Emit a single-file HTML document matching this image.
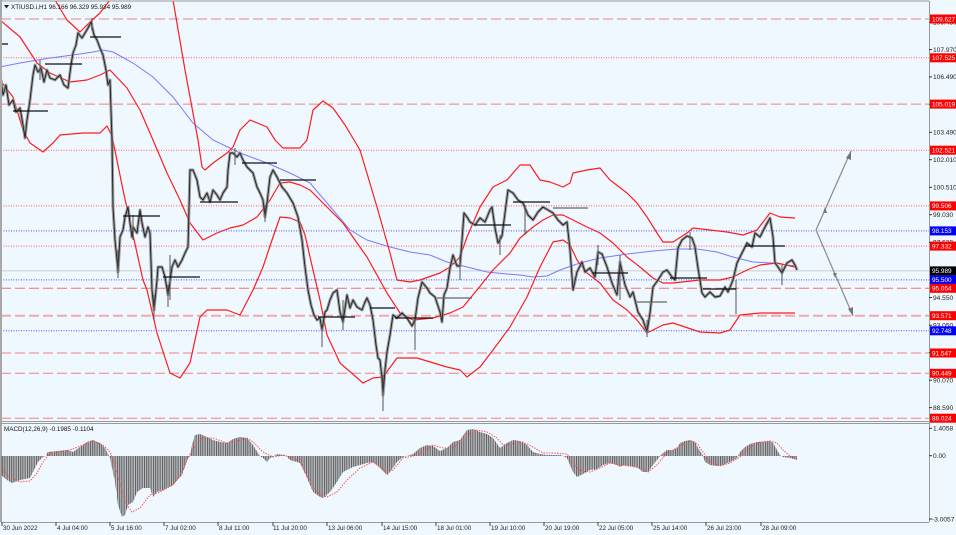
<!DOCTYPE html>
<html><head><meta charset="utf-8"><style>
html,body{margin:0;padding:0;background:#f0f8ff;}
svg{display:block;font-family:"Liberation Sans",Arial,sans-serif;}
</style></head><body>
<svg width="956" height="535" viewBox="0 0 956 535" xmlns="http://www.w3.org/2000/svg">
<defs>
<clipPath id="mc"><rect x="1" y="1" width="928" height="420"/></clipPath>
<clipPath id="dc"><rect x="1" y="423" width="928" height="99"/></clipPath>
<pattern id="hp" patternUnits="userSpaceOnUse" width="1.8" height="10"><rect x="0" y="0" width="1.2" height="10" fill="#606060"/></pattern>
</defs>
<rect x="0" y="0" width="956" height="535" fill="#f0f8ff"/>

<!-- main chart -->
<g clip-path="url(#mc)">
<g fill="none">
<line x1="1" y1="19" x2="929" y2="19" stroke="#f08080" stroke-dasharray="10 4"/>
<line x1="1" y1="57.8" x2="929" y2="57.8" stroke="#ff5a5a" stroke-dasharray="1 1.5"/>
<line x1="1" y1="104.1" x2="929" y2="104.1" stroke="#f08080" stroke-dasharray="10 4"/>
<line x1="1" y1="150.2" x2="929" y2="150.2" stroke="#ff5a5a" stroke-dasharray="1 1.5"/>
<line x1="1" y1="205.9" x2="929" y2="205.9" stroke="#ff5a5a" stroke-dasharray="1 1.5"/>
<line x1="1" y1="230.9" x2="929" y2="230.9" stroke="#4b4bff" stroke-dasharray="1 1.5"/>
<line x1="1" y1="246.1" x2="929" y2="246.1" stroke="#ff5a5a" stroke-dasharray="1 1.5"/>
<line x1="1" y1="270.9" x2="929" y2="270.9" stroke="#c8cdd2" stroke-width="1"/>
<line x1="1" y1="279.9" x2="929" y2="279.9" stroke="#4b4bff" stroke-dasharray="1 1.5"/>
<line x1="1" y1="288.3" x2="929" y2="288.3" stroke="#f07070" stroke-dasharray="10 4"/>
<line x1="1" y1="315.7" x2="929" y2="315.7" stroke="#f4a8a8" stroke-width="2" stroke-dasharray="10 4"/>
<line x1="1" y1="330.8" x2="929" y2="330.8" stroke="#4b4bff" stroke-dasharray="1 1.5"/>
<line x1="1" y1="353" x2="929" y2="353" stroke="#f08080" stroke-dasharray="10 4"/>
<line x1="1" y1="373.3" x2="929" y2="373.3" stroke="#f08080" stroke-dasharray="10 4"/>
<line x1="1" y1="418.2" x2="929" y2="418.2" stroke="#f08080" stroke-dasharray="10 4"/>
</g>

<polyline fill="none" stroke="#7a7aff" stroke-width="1" points="0,67 20,63 50,58 73,55 93,52 103,50 113,52 133,63 153,77 173,97 193,123 213,140 240,153 267,163 290,173 310,183 333,210 350,230 367,240 390,247 410,252 430,255 447,262 467,267 487,272 507,274 520,275 533,277 547,276 560,270 580,263 600,258 627,254 653,251 677,249 697,249 717,252 733,257 753,262 773,263 795,266"/>

<g fill="none" stroke="#ff1c1c" stroke-width="1.2" stroke-linejoin="round">
<polyline points="50,-10 55,0 67,20 80,32 90,22 100,13 110,0 115,-40 165,-40 173,0 185,70 198,140 202,167 205,170 213,163 227,153 233,147 240,130 250,120 267,127 275,140 283,148 300,148 307,140 313,110 323,101 333,108 345,125 360,150 377,207 390,253 397,280 410,282 420,280 440,273 450,267 460,257 467,237 480,207 493,187 507,180 520,165 530,165 540,180 550,182 563,187 570,183 573,173 587,170 600,168 610,180 627,193 637,203 647,217 657,233 663,242 673,242 687,233 693,228 710,230 727,232 743,235 757,230 770,213 780,217 795,218"/>
<polyline points="0,20 20,37 37,63 50,73 70,82 87,80 100,75 110,70 127,88 140,110 153,140 167,173 180,200 190,223 203,240 217,233 230,228 243,225 257,217 270,200 280,183 290,182 300,185 310,190 320,200 343,223 367,257 387,293 400,313 413,320 433,318 450,313 463,307 477,290 493,270 510,253 520,238 533,227 543,220 553,215 563,215 573,220 587,227 600,233 613,243 627,257 640,267 653,278 663,283 673,283 700,280 720,280 733,277 747,270 760,265 777,263 795,267"/>
<polyline points="0,80 13,97 23,130 30,143 43,152 53,143 60,135 83,133 100,133 107,126 112,136 123,190 133,235 143,280 147,290 157,333 170,373 180,378 190,363 200,317 207,310 227,310 240,315 253,290 263,267 272,240 280,217 290,218 300,222 305,235 313,270 320,300 327,335 340,363 363,383 373,378 383,377 397,358 417,358 447,367 460,370 467,377 480,367 493,350 510,327 527,297 540,267 553,242 563,240 570,245 577,260 587,273 600,283 613,300 627,310 637,320 647,333 653,330 663,325 673,323 700,332 720,333 730,330 740,315 760,313 795,313"/>
</g>

<polyline fill="none" stroke="#8c8c8c" stroke-width="3" stroke-linejoin="round" stroke-opacity="0.85" points="1,80 3,95 6,85 9,105 13,100 16,112 20,108 23,125 25,138 27,120 30,100 33,75 35,65 38,72 41,68 44,82 47,70 50,78 55,80 60,75 64,85 68,88 71,65 73,53 76,45 78,33 82,38 85,33 88,28 91,22 94,35 97,40 100,48 103,55 106,70 108,85 110,80 112,140 113,207 115,240 117,260 118,272 120,237 123,230 125,217 128,207 130,223 132,237 133,227 137,233 140,210 142,223 145,237 148,227 150,233 152,290 154,310 157,280 158,267 162,267 165,277 168,295 172,267 175,260 178,267 182,260 185,253 188,247 190,170 193,170 197,180 200,197 203,200 207,193 210,202 213,190 217,195 220,200 223,193 227,187 228,170 230,153 233,153 237,157 240,153 243,160 247,167 250,170 253,173 257,187 260,193 263,200 265,217 267,203 270,177 273,170 277,177 282,187 287,193 293,203 298,217 302,240 305,267 308,290 311,305 314,315 317,320 320,318 322,330 325,312 327,310 330,300 333,293 337,290 340,312 343,322 347,295 350,308 353,300 357,307 362,310 365,302 367,298 370,305 373,320 376,345 378,358 380,360 382,378 383,395 385,370 387,352 390,335 393,315 397,318 402,313 407,318 412,326 415,320 418,298 422,282 427,288 430,293 435,297 440,312 442,322 444,295 447,288 450,268 453,255 457,266 460,266 462,240 464,213 467,217 470,222 475,225 480,218 485,222 490,210 492,207 495,228 498,243 502,236 505,213 508,190 513,193 518,200 523,203 528,215 533,220 538,212 543,207 548,210 553,213 558,220 563,225 567,222 570,250 573,290 577,272 582,262 585,272 590,268 595,277 598,252 602,254 607,267 612,283 617,295 620,262 625,285 630,297 633,292 638,312 643,320 647,332 650,313 653,287 658,280 663,272 667,270 672,277 675,280 678,248 682,240 687,236 692,238 695,247 698,268 702,293 705,297 710,292 715,297 720,296 725,287 728,292 733,280 737,263 742,253 747,243 752,247 755,233 760,237 765,227 770,218 773,237 775,263 778,267 782,273 787,263 792,260 795,265 797,270"/>
<polyline fill="none" stroke="#202020" stroke-width="0.9" stroke-linejoin="round" points="1,80 3,95 6,85 9,105 13,100 16,112 20,108 23,125 25,138 27,120 30,100 33,75 35,65 38,72 41,68 44,82 47,70 50,78 55,80 60,75 64,85 68,88 71,65 73,53 76,45 78,33 82,38 85,33 88,28 91,22 94,35 97,40 100,48 103,55 106,70 108,85 110,80 112,140 113,207 115,240 117,260 118,272 120,237 123,230 125,217 128,207 130,223 132,237 133,227 137,233 140,210 142,223 145,237 148,227 150,233 152,290 154,310 157,280 158,267 162,267 165,277 168,295 172,267 175,260 178,267 182,260 185,253 188,247 190,170 193,170 197,180 200,197 203,200 207,193 210,202 213,190 217,195 220,200 223,193 227,187 228,170 230,153 233,153 237,157 240,153 243,160 247,167 250,170 253,173 257,187 260,193 263,200 265,217 267,203 270,177 273,170 277,177 282,187 287,193 293,203 298,217 302,240 305,267 308,290 311,305 314,315 317,320 320,318 322,330 325,312 327,310 330,300 333,293 337,290 340,312 343,322 347,295 350,308 353,300 357,307 362,310 365,302 367,298 370,305 373,320 376,345 378,358 380,360 382,378 383,395 385,370 387,352 390,335 393,315 397,318 402,313 407,318 412,326 415,320 418,298 422,282 427,288 430,293 435,297 440,312 442,322 444,295 447,288 450,268 453,255 457,266 460,266 462,240 464,213 467,217 470,222 475,225 480,218 485,222 490,210 492,207 495,228 498,243 502,236 505,213 508,190 513,193 518,200 523,203 528,215 533,220 538,212 543,207 548,210 553,213 558,220 563,225 567,222 570,250 573,290 577,272 582,262 585,272 590,268 595,277 598,252 602,254 607,267 612,283 617,295 620,262 625,285 630,297 633,292 638,312 643,320 647,332 650,313 653,287 658,280 663,272 667,270 672,277 675,280 678,248 682,240 687,236 692,238 695,247 698,268 702,293 705,297 710,292 715,297 720,296 725,287 728,292 733,280 737,263 742,253 747,243 752,247 755,233 760,237 765,227 770,218 773,237 775,263 778,267 782,273 787,263 792,260 795,265 797,270"/>
<g stroke="#555" stroke-width="1">
<line x1="118" y1="250" x2="118" y2="278"/><line x1="154" y1="295" x2="154" y2="320"/>
<line x1="168" y1="285" x2="168" y2="307"/><line x1="383" y1="375" x2="383" y2="411"/>
<line x1="322" y1="325" x2="322" y2="347"/><line x1="415" y1="320" x2="415" y2="350"/>
<line x1="500" y1="235" x2="500" y2="255"/><line x1="647" y1="320" x2="647" y2="337"/>
<line x1="736" y1="280" x2="736" y2="314"/><line x1="782" y1="265" x2="782" y2="285"/>
<line x1="265" y1="205" x2="265" y2="222"/><line x1="133" y1="215" x2="133" y2="240"/>
<line x1="525" y1="205" x2="525" y2="235"/><line x1="598" y1="245" x2="598" y2="265"/>
<line x1="343" y1="300" x2="343" y2="330"/><line x1="92" y1="18" x2="92" y2="30"/>
<line x1="170" y1="255" x2="170" y2="300"/><line x1="460" y1="255" x2="460" y2="280"/>
<line x1="235" y1="148" x2="235" y2="165"/><line x1="40" y1="60" x2="40" y2="80"/>
<line x1="690" y1="232" x2="690" y2="250"/><line x1="620" y1="255" x2="620" y2="300"/>
</g>

<g stroke="#111" stroke-width="1.3">
<line x1="2" y1="44" x2="8" y2="44"/><line x1="13" y1="111" x2="48" y2="111"/>
<line x1="45" y1="64" x2="82" y2="64"/><line x1="90" y1="37" x2="121" y2="37"/>
<line x1="123" y1="216" x2="160" y2="216"/><line x1="163" y1="277" x2="200" y2="277"/>
<line x1="200" y1="202" x2="238" y2="202"/><line x1="242" y1="163" x2="277" y2="163"/>
<line x1="280" y1="180" x2="316" y2="180"/><line x1="318" y1="317" x2="355" y2="317"/>
<line x1="370" y1="308" x2="395" y2="308"/><line x1="395" y1="318" x2="433" y2="318"/>
<line x1="475" y1="225" x2="511" y2="225"/><line x1="513" y1="202" x2="550" y2="202"/>
<line x1="593" y1="273" x2="628" y2="273"/><line x1="670" y1="278" x2="707" y2="278"/>
<line x1="703" y1="289" x2="736" y2="289"/><line x1="745" y1="246" x2="785" y2="246"/>
</g>
<g stroke="#666" stroke-width="1.3">
<line x1="437" y1="298" x2="472" y2="298"/><line x1="553" y1="208" x2="588" y2="208"/>
<line x1="637" y1="302" x2="667" y2="302"/>
</g>

<g stroke="#8a8a8a" stroke-width="1.2" fill="none">
<polyline points="816,230 851,151"/>
<polyline points="816,230 853,316"/>
</g>
<g fill="#777">
<polygon points="851,151 846,158 851,160"/>
<polygon points="853,316 848,309 853,307"/>
<polygon points="825,207 823,213 827,213"/>
<polygon points="835,278 833,273 837,273"/>
</g>
</g>

<rect x="0" y="0" width="2" height="522" fill="#a8a8a8"/>
<line x1="1" y1="1" x2="929" y2="1" stroke="#9a9a9a"/>
<line x1="929.5" y1="1" x2="929.5" y2="522" stroke="#9a9a9a"/>
<line x1="1" y1="421.5" x2="929" y2="421.5" stroke="#9a9a9a"/>
<line x1="1" y1="423.5" x2="929" y2="423.5" stroke="#9a9a9a"/>
<line x1="1" y1="522.5" x2="929" y2="522.5" stroke="#9a9a9a"/>

<polygon points="4,5 9,5 6.5,8.5" fill="#222"/>
<text x="11" y="9" font-size="6.3" fill="#111">XTIUSD.i,H1  96.166 96.329 95.934 95.989</text>

<g stroke="#333" stroke-width="1">
<line x1="929" y1="22.3" x2="932" y2="22.3"/><line x1="929" y1="49.6" x2="932" y2="49.6"/>
<line x1="929" y1="76.9" x2="932" y2="76.9"/><line x1="929" y1="104.3" x2="932" y2="104.3"/>
<line x1="929" y1="132.3" x2="932" y2="132.3"/><line x1="929" y1="159.7" x2="932" y2="159.7"/>
<line x1="929" y1="187.4" x2="932" y2="187.4"/><line x1="929" y1="214.7" x2="932" y2="214.7"/>
<line x1="929" y1="242.4" x2="932" y2="242.4"/><line x1="929" y1="297.5" x2="932" y2="297.5"/>
<line x1="929" y1="325.2" x2="932" y2="325.2"/><line x1="929" y1="352.5" x2="932" y2="352.5"/>
<line x1="929" y1="380.2" x2="932" y2="380.2"/><line x1="929" y1="407.6" x2="932" y2="407.6"/>
</g>
<g font-size="6.6" fill="#222">
<text x="933" y="24.6">109.450</text>
<text x="933" y="51.9">107.970</text>
<text x="933" y="79.2">106.490</text>
<text x="933" y="106.6">105.010</text>
<text x="933" y="134.6">103.490</text>
<text x="933" y="162">102.010</text>
<text x="933" y="189.7">100.510</text>
<text x="933" y="217">99.030</text>
<text x="933" y="244.7">97.530</text>
<text x="933" y="299.8">94.550</text>
<text x="933" y="327.5">93.050</text>
<text x="933" y="354.8">91.570</text>
<text x="933" y="382.5">90.070</text>
<text x="933" y="409.9">88.590</text>
</g>

<g font-size="6.4" fill="#fff">
<rect x="930" y="14.5" width="26" height="9" fill="#ff0000"/><text x="932" y="21.3">109.627</text>
<rect x="930" y="53.3" width="26" height="9" fill="#ff0000"/><text x="932" y="60.1">107.525</text>
<rect x="930" y="99.6" width="26" height="9" fill="#ff0000"/><text x="932" y="106.4">105.019</text>
<rect x="930" y="145.7" width="26" height="9" fill="#ff0000"/><text x="932" y="152.5">102.521</text>
<rect x="930" y="201.4" width="26" height="9" fill="#ff0000"/><text x="932" y="208.2">99.506</text>
<rect x="930" y="226.4" width="26" height="9" fill="#0000ff"/><text x="932" y="233.2">98.153</text>
<rect x="930" y="241.6" width="26" height="9" fill="#ff0000"/><text x="932" y="248.4">97.332</text>
<rect x="930" y="266.4" width="26" height="9" fill="#000000"/><text x="932" y="273.2">95.989</text>
<rect x="930" y="275.4" width="26" height="9" fill="#0000ff"/><text x="932" y="282.2">95.500</text>
<rect x="930" y="283.8" width="26" height="9" fill="#ff0000"/><text x="932" y="290.6">95.054</text>
<rect x="930" y="311.2" width="26" height="9" fill="#ff0000"/><text x="932" y="318">93.571</text>
<rect x="930" y="326.3" width="26" height="9" fill="#0000ff"/><text x="932" y="333.1">92.748</text>
<rect x="930" y="348.5" width="26" height="9" fill="#ff0000"/><text x="932" y="355.3">91.547</text>
<rect x="930" y="368.8" width="26" height="9" fill="#ff0000"/><text x="932" y="375.6">90.449</text>
<rect x="930" y="413.7" width="26" height="9" fill="#ff0000"/><text x="932" y="420.5">88.024</text>
</g>

<g clip-path="url(#dc)">
<path fill="url(#hp)" d="M1,456 L1,475 7,480 12,483 15,482 20,480 30,478 33,472 38,462 43,457 46,456 47,453 48,452 57,451 67,450 73,452 80,447 87,442 93,440 100,443 105,448 108,454 109,456 110,458 115,482 118,505 122,517 125,515 128,505 133,502 137,492 143,488 150,488 153,497 157,492 163,490 173,485 182,475 188,458 190,456 192,445 195,435 200,434 207,437 213,440 220,442 227,443 233,439 240,437 247,438 253,445 258,453 260,456 263,458 267,462 270,458 274,456 277,454 283,455 286,456 290,460 300,463 307,478 313,492 320,497 323,498 330,492 337,482 343,472 353,467 367,463 373,462 380,468 387,475 390,472 397,462 403,457 407,456 413,454 420,448 427,445 433,446 440,451 447,448 453,442 460,440 467,430 473,429 480,432 487,434 493,438 500,448 507,443 513,440 520,441 527,445 533,452 540,454 547,455 560,455 563,456 567,458 573,472 577,477 583,474 590,470 597,469 603,465 610,463 617,465 620,467 623,465 630,466 637,467 643,472 648,472 653,465 657,460 660,456 663,453 667,450 673,450 677,448 680,443 685,441 690,440 695,442 698,448 702,454 703,456 705,462 710,465 717,466 723,465 730,462 737,458 738,456 740,452 745,447 750,444 757,442 763,442 770,441 773,443 777,450 780,455 781,456 783,457 790,458 797,460 797,456 Z"/>
<polyline fill="none" stroke="#ff5050" stroke-width="1" stroke-dasharray="1.5 1.2" points="1,468 10,477 20,482 30,481 37,473 43,462 50,453 67,451 83,445 93,441 103,445 110,452 115,465 120,485 127,505 132,512 140,508 150,495 160,492 173,485 182,472 188,458 195,445 202,438 213,438 227,443 240,440 247,438 253,442 263,452 273,457 283,455 293,458 300,461 310,482 320,495 327,497 337,492 347,480 360,468 373,462 387,472 393,470 403,458 413,456 423,452 433,445 443,448 453,448 467,435 477,430 487,432 497,438 503,445 513,444 523,442 533,447 543,453 553,453 567,454 573,462 580,471 590,472 600,468 610,463 620,465 630,466 640,468 648,472 657,465 667,453 677,448 687,442 693,441 698,445 703,452 710,462 720,466 730,463 740,457 750,447 760,442 770,441 777,443 783,450 790,456 797,458"/>
</g>
<text x="4" y="431" font-size="6.3" fill="#111">MACD(12,26,9) -0.1985 -0.1104</text>
<g stroke="#333"><line x1="929" y1="428.3" x2="932" y2="428.3"/><line x1="929" y1="455.7" x2="932" y2="455.7"/><line x1="929" y1="519" x2="932" y2="519"/></g>
<g font-size="6.6" fill="#222">
<text x="933" y="430.6">1.4058</text>
<text x="933" y="458">0.00</text>
<text x="932" y="521.3">-3.0057</text>
</g>

<g stroke="#444" stroke-width="1">
<line x1="2" y1="522" x2="2" y2="526"/><line x1="56" y1="522" x2="56" y2="526"/><line x1="110" y1="522" x2="110" y2="526"/>
<line x1="164" y1="522" x2="164" y2="526"/><line x1="218" y1="522" x2="218" y2="526"/><line x1="273" y1="522" x2="273" y2="526"/>
<line x1="327" y1="522" x2="327" y2="526"/><line x1="382" y1="522" x2="382" y2="526"/><line x1="436" y1="522" x2="436" y2="526"/>
<line x1="490" y1="522" x2="490" y2="526"/><line x1="544" y1="522" x2="544" y2="526"/><line x1="598" y1="522" x2="598" y2="526"/>
<line x1="652" y1="522" x2="652" y2="526"/><line x1="706" y1="522" x2="706" y2="526"/><line x1="761" y1="522" x2="761" y2="526"/>
</g>
<g font-size="6.3" fill="#222">
<text x="3" y="530">30 Jun 2022</text>
<text x="57" y="530">4 Jul 04:00</text>
<text x="111" y="530">5 Jul 16:00</text>
<text x="165" y="530">7 Jul 02:00</text>
<text x="219" y="530">8 Jul 11:00</text>
<text x="273" y="530">11 Jul 20:00</text>
<text x="328" y="530">13 Jul 06:00</text>
<text x="383" y="530">14 Jul 15:00</text>
<text x="437" y="530">18 Jul 01:00</text>
<text x="491" y="530">19 Jul 10:00</text>
<text x="545" y="530">20 Jul 19:00</text>
<text x="599" y="530">22 Jul 05:00</text>
<text x="653" y="530">25 Jul 14:00</text>
<text x="707" y="530">26 Jul 23:00</text>
<text x="762" y="530">28 Jul 09:00</text>
</g>
</svg>
</body></html>
